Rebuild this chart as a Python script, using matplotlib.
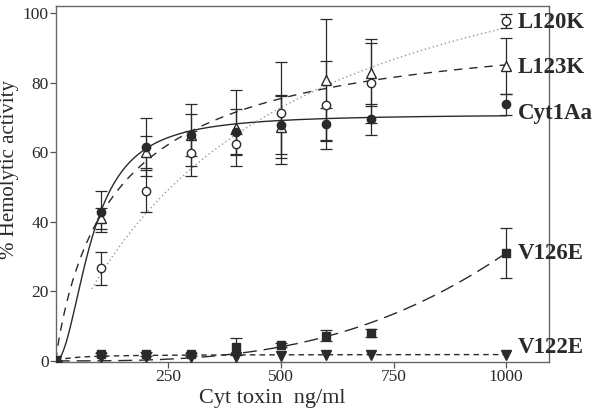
import numpy as np
import matplotlib
matplotlib.use("Agg")
import matplotlib.pyplot as plt

plt.rcParams['font.family'] = ['Liberation Serif', 'DejaVu Serif']

# toxin doses (ng/ml)
dose = [0, 100, 200, 300, 400, 500, 600, 700, 1000]

# % hemolytic activity, mean and error
cyt1aa = [0, 43, 61.5, 65, 66, 68, 68.2, 69.5, 73.8]
cyt1aa_err = [0, 6, 8.3, 9, 6.5, 8.4, 4.5, 4.5, 3]
l123k = [0, 41, 60.2, 65, 67, 67.4, 80.8, 82.9, 84.9]
l123k_err = [0, 3, 4.6, 6, 11, 8.9, 17.5, 9.6, 8]
l120k = [0, 26.6, 49, 59.7, 62.4, 71.4, 73.6, 80, 97.9]
l120k_err = [0, 4.7, 6, 6.5, 3, 14.7, 12.7, 11.5, 2]
v126e = [0, 1.9, 2, 1.9, 4.1, 4.7, 7.3, 8, 31]
v126e_err = [0, 0.5, 0.5, 0.5, 2.4, 0.6, 1.5, 1.2, 7.2]
v122e = [0, 1.2, 1.0, 1.0, 1.2, 1.4, 1.6, 1.6, 1.6]

# fitted Hill curves: (Vmax, K, n, start dose)
fit_cyt1aa = (71, 80.6, 2.0, 0)
fit_l123k = (100, 143, 0.9, 0)
fit_l120k = (140, 460, 1.0, 80)
fit_v126e = (600, 2636, 3.0, 0)
fit_v122e = (1.9, 40, 1.0, 0)

labels = ['L120K', 'L123K', 'Cyt1Aa', 'V126E', 'V122E']
label_y = [97.5, 84.5, 71.3, 31, 3.8]


def hill(p):
    vmax, k, n, x0 = p
    x = np.linspace(x0, 1000, 300)
    return x, vmax * x**n / (k**n + x**n)


ink = '#2a2a2a'
fig = plt.figure(figsize=(6, 4.09), dpi=100)
ax = fig.add_axes([0.093, 0.115, 0.822, 0.870])

# curves
x, y = hill(fit_cyt1aa)
ax.plot(x, y, '-', color=ink, lw=1.0)
x, y = hill(fit_l123k)
ax.plot(x, y, color=ink, lw=1.0, ls=(0, (6, 5)))
x, y = hill(fit_l120k)
ax.plot(x, y, color='#999999', lw=1.0, ls=(0, (1, 2)))
x, y = hill(fit_v126e)
ax.plot(x, y, color=ink, lw=1.0, ls=(0, (10, 5)))
x, y = hill(fit_v122e)
ax.plot(x, y, color=ink, lw=1.0, ls=(0, (4, 3)))

eb = dict(color=ink, elinewidth=0.9, capsize=4, capthick=0.9, lw=0, zorder=3)
ax.errorbar(dose, l120k, yerr=l120k_err, marker='o', ms=6, mfc='white', mec=ink, **eb)
ax.errorbar(dose, l123k, yerr=l123k_err, marker='^', ms=7, mfc='white', mec=ink, **eb)
ax.errorbar(dose, cyt1aa, yerr=cyt1aa_err, marker='o', ms=6, mfc=ink, mec=ink, **eb)
ax.errorbar(dose, v126e, yerr=v126e_err, marker='s', ms=5.5, mfc=ink, mec=ink, **eb)
ax.errorbar(dose, v122e, marker='v', ms=6.5, mfc=ink, mec=ink, **eb)

for name, ly in zip(labels, label_y):
    ax.text(1026, ly, name, fontsize=16.5, fontweight='bold', color=ink,
            va='center', ha='left', clip_on=False, zorder=5)

ax.set_xlim(0, 1095)
ax.set_ylim(-0.3, 102.1)
ax.set_xticks([250, 500, 750, 1000])
ax.set_yticks([0, 20, 40, 60, 80, 100])
ax.tick_params(direction='out', length=4, width=0.9, colors='#555555',
               labelcolor=ink, labelsize=12.5, pad=1)
for s in ax.spines.values():
    s.set_color('#666666')
    s.set_linewidth(1.0)

ax.set_xlabel('Cyt toxin  ng/ml', fontsize=16, color=ink)
ax.xaxis.set_label_coords(0.438, -0.075)
ax.set_ylabel('% Hemolytic activity', fontsize=15, color=ink)
ax.yaxis.set_label_coords(-0.075, 0.54)

fig.savefig('out.png', dpi=100)
